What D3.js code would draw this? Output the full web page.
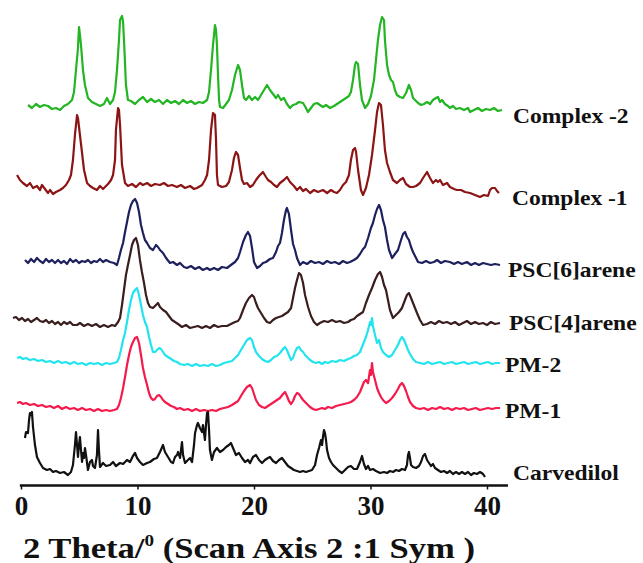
<!DOCTYPE html>
<html>
<head>
<meta charset="utf-8">
<script src="https://cdn.jsdelivr.net/npm/d3@7"></script>
<style>
  html, body { margin: 0; padding: 0; background: #fff; }
  svg { display: block; }
  text { font-family: "Liberation Serif", "Times New Roman", serif; font-weight: bold; fill: #111; }
</style>
</head>
<body>
<svg id="chart" width="643" height="563"></svg>
<script>
// ---------------- DATA ----------------
const seriesNames = ["Complex -2", "Complex -1", "PSC[6]arene", "PSC[4]arene", "PM-2", "PM-1", "Carvedilol"];
// vertical stacking offsets (a.u.)
const seriesOffsets = [375, 295, 220, 160, 122, 75, 10];
const xTicks = [0, 10, 20, 30, 40];
const xTitle = "2 Theta/";

const complex2Theta = [0.60,0.94,1.29,1.63,1.97,2.32,2.66,3.00,3.35,3.69,4.03,4.38,4.55,4.72,4.89,4.98,5.06,5.15,5.32,5.49,5.75,6.09,6.44,6.78,7.12,7.38,7.64,7.90,8.07,8.24,8.41,8.50,8.67,8.76,8.84,9.01,9.18,9.44,9.79,10.13,10.47,10.82,11.16,11.50,11.85,12.19,12.53,12.88,13.22,13.56,13.91,14.25,14.59,14.94,15.28,15.62,15.97,16.14,16.31,16.48,16.65,16.74,16.82,16.91,17.00,17.08,17.34,17.60,17.85,18.11,18.37,18.63,18.80,18.97,19.14,19.31,19.57,19.83,20.09,20.34,20.60,20.86,21.12,21.37,21.63,21.89,22.06,22.32,22.57,22.83,23.09,23.35,23.61,23.86,24.21,24.46,24.63,24.89,25.15,25.41,25.66,25.92,26.18,26.52,26.87,27.12,27.38,27.64,27.90,28.15,28.32,28.50,28.67,28.76,28.93,29.10,29.27,29.53,29.79,30.04,30.30,30.47,30.64,30.82,30.99,31.16,31.24,31.42,31.59,31.76,31.93,32.10,32.27,32.53,32.79,33.05,33.30,33.48,33.65,33.82,34.08,34.34,34.59,34.85,35.11,35.36,35.62,35.79,35.97,36.14,36.39,36.65,36.82,37.08,37.34,37.68,38.03,38.37,38.54,38.88,39.23,39.57,39.91,40.26,40.60,40.94,41.29];
const complex2Int = [5,2,6,3,5,4,1,2,0,4,6,10,18,40,62,83,75,65,40,25,12,8,6,4,6,12,6,10,18,40,70,90,94,88,70,25,10,9,6,10,13,8,11,8,10,6,10,7,9,6,10,7,9,6,8,7,10,18,40,65,85,80,65,35,10,3,2,6,10,20,35,45,40,25,12,10,14,10,13,10,15,20,25,20,16,12,15,10,12,6,2,5,6,8,7,2,-2,2,6,7,5,3,5,2,4,6,8,10,12,14,18,30,45,48,46,25,10,2,6,14,30,50,70,85,93,90,70,45,35,30,28,20,15,13,12,17,25,20,12,10,7,5,6,8,6,10,12,13,8,10,6,4,2,4,1,2,0,2,-2,0,2,-1,1,0,2,-1,0];

const complex1Theta = [-0.34,-0.09,0.17,0.51,0.77,1.03,1.37,1.63,1.80,2.06,2.32,2.49,2.75,3.00,3.35,3.60,3.86,4.12,4.29,4.46,4.63,4.81,4.89,5.06,5.24,5.41,5.67,5.92,6.18,6.52,6.78,7.04,7.21,7.47,7.73,7.90,8.07,8.15,8.33,8.41,8.50,8.67,8.93,9.18,9.53,9.87,10.21,10.47,10.82,11.16,11.50,11.93,12.27,12.62,12.96,13.39,13.73,14.08,14.51,14.85,15.11,15.54,15.79,15.97,16.14,16.31,16.48,16.65,16.74,16.82,16.91,17.25,17.60,17.85,18.11,18.28,18.45,18.63,18.80,18.97,19.14,19.40,19.66,19.91,20.17,20.43,20.77,21.03,21.20,21.46,21.72,21.97,22.23,22.57,22.83,23.09,23.43,23.69,23.95,24.21,24.46,24.81,25.15,25.49,25.92,26.27,26.61,26.87,27.12,27.38,27.64,27.90,28.15,28.32,28.50,28.67,28.76,28.93,29.18,29.36,29.61,29.87,30.13,30.39,30.56,30.73,30.90,31.07,31.24,31.42,31.67,31.93,32.27,32.53,32.79,33.05,33.39,33.65,33.91,34.25,34.51,34.85,35.11,35.36,35.62,35.79,35.97,36.22,36.57,36.82,37.17,37.42,37.77,38.11,38.54,38.97,39.40,39.74,40.09,40.26,40.43,40.69,40.86,41.03];
const complex1Int = [15,10,7,4,7,2,4,0,5,1,-3,0,-4,-2,0,2,5,10,15,30,55,75,72,55,37,20,7,4,2,0,4,1,3,6,10,15,30,60,82,80,65,25,7,4,6,3,7,5,7,4,6,5,7,4,5,3,5,2,4,1,2,5,10,15,30,60,77,75,50,15,5,3,4,8,20,32,38,35,22,10,6,7,3,5,10,14,18,13,10,8,5,3,7,10,13,8,4,0,3,-1,1,-3,0,-2,0,-3,0,-2,-3,0,5,8,15,30,40,42,38,20,0,-5,2,15,35,60,78,87,85,65,40,27,18,10,7,10,12,6,3,3,4,7,12,18,12,7,10,8,10,5,7,3,1,0,0,-2,-3,-5,-7,-5,-6,0,2,2,-1,-3];

const psc6Theta = [0.34,0.60,0.86,1.12,1.37,1.63,1.89,2.15,2.40,2.66,2.92,3.18,3.43,3.69,3.95,4.21,4.46,4.72,4.98,5.24,5.49,5.75,6.01,6.27,6.52,6.78,7.04,7.30,7.64,7.98,8.24,8.41,8.58,8.76,8.93,9.10,9.27,9.44,9.61,9.79,9.96,10.13,10.30,10.47,10.64,10.82,11.07,11.33,11.59,11.76,11.93,12.19,12.45,12.79,13.05,13.39,13.65,13.99,14.25,14.59,14.94,15.28,15.62,15.97,16.22,16.57,16.91,17.25,17.68,18.02,18.37,18.63,18.80,19.06,19.31,19.48,19.66,19.83,20.00,20.26,20.52,20.77,21.03,21.37,21.63,21.89,22.06,22.23,22.40,22.57,22.75,22.83,23.00,23.18,23.35,23.52,23.69,23.95,24.21,24.55,24.89,25.24,25.58,25.92,26.27,26.61,26.95,27.30,27.64,27.98,28.24,28.58,28.84,29.10,29.36,29.53,29.79,30.04,30.21,30.39,30.56,30.73,30.90,31.07,31.24,31.42,31.59,31.85,32.10,32.36,32.62,32.79,32.96,33.13,33.30,33.48,33.65,33.91,34.08,34.42,34.76,35.11,35.45,35.71,36.05,36.39,36.82,37.17,37.51,37.85,38.28,38.63,38.97,39.31,39.66,40.00,40.34,40.69,41.12];
const psc6Int = [5,2,6,3,7,4,2,6,3,5,2,5,2,4,1,6,3,5,2,4,3,5,2,4,3,6,3,5,3,2,0,7,15,22,33,43,53,60,64,66,62,53,40,32,25,22,17,15,20,18,15,12,7,2,3,0,2,-2,-3,-1,-4,-2,-5,-3,-5,-3,-5,-2,-3,0,3,7,13,23,30,33,29,17,3,-3,-1,2,3,6,7,13,19,22,32,45,55,57,51,35,21,15,7,0,3,1,4,2,3,1,4,2,3,1,4,2,3,5,7,11,16,18,27,37,42,50,56,60,55,45,38,25,15,7,11,15,25,31,33,28,25,18,13,7,3,2,4,2,3,5,2,4,3,1,3,1,3,0,2,0,2,1,0,1,0];

const psc4Theta = [-0.69,-0.43,-0.17,0.09,0.34,0.60,0.86,1.12,1.37,1.63,1.89,2.15,2.40,2.66,2.92,3.18,3.43,3.69,3.95,4.21,4.46,4.81,5.06,5.41,5.75,6.09,6.44,6.78,7.12,7.47,7.81,8.07,8.33,8.50,8.67,8.84,9.01,9.18,9.36,9.53,9.70,9.87,10.04,10.21,10.38,10.56,10.73,10.90,11.07,11.33,11.59,11.76,11.93,12.19,12.45,12.70,12.96,13.22,13.48,13.82,14.16,14.51,14.85,15.19,15.54,15.88,16.22,16.57,16.91,17.25,17.68,18.02,18.37,18.63,18.80,19.06,19.31,19.57,19.83,20.00,20.17,20.34,20.60,20.86,21.12,21.37,21.63,21.89,22.15,22.40,22.66,22.92,23.18,23.35,23.52,23.69,23.86,24.03,24.21,24.38,24.64,24.89,25.15,25.41,25.66,26.01,26.35,26.70,27.04,27.38,27.73,28.07,28.32,28.58,28.84,29.10,29.36,29.61,29.87,30.13,30.39,30.64,30.82,30.99,31.16,31.33,31.50,31.67,31.93,32.19,32.45,32.70,32.96,33.13,33.30,33.48,33.65,33.82,33.99,34.25,34.51,34.85,35.19,35.54,35.88,36.22,36.57,36.91,37.25,37.60,37.94,38.28,38.63,38.97,39.31,39.66,40.00,40.34,40.69,41.12];
const psc4Int = [7,8,5,7,4,6,3,5,7,4,3,5,2,4,1,3,0,3,1,3,0,0,2,-1,1,-1,1,-2,0,-2,0,-1,3,7,20,35,50,60,70,80,85,87,80,65,53,42,30,22,18,17,20,22,18,15,13,9,5,3,1,-2,0,-3,-2,-1,-3,-1,-3,0,-2,-1,-1,1,3,4,7,15,22,27,30,28,22,17,12,7,3,2,5,7,8,9,11,13,17,27,37,45,52,50,42,30,18,9,3,0,2,4,3,5,3,4,2,3,5,6,9,11,13,22,30,37,45,51,53,48,40,35,25,15,7,10,13,17,25,30,32,27,22,17,12,5,0,1,3,1,4,2,3,1,3,0,2,4,1,3,1,2,0,3,1,2];

const pm2Theta = [-0.34,-0.09,0.17,0.43,0.77,1.12,1.46,1.80,2.15,2.49,2.83,3.18,3.52,3.86,4.21,4.55,4.89,5.24,5.58,5.92,6.27,6.61,6.95,7.30,7.64,7.98,8.24,8.41,8.58,8.76,8.93,9.10,9.27,9.44,9.61,9.79,9.96,10.13,10.30,10.47,10.64,10.82,10.99,11.16,11.33,11.50,11.67,11.85,12.02,12.19,12.36,12.62,12.88,13.13,13.39,13.65,13.99,14.33,14.68,15.02,15.36,15.71,16.05,16.39,16.74,17.08,17.42,17.77,18.11,18.37,18.63,18.88,19.14,19.40,19.66,19.83,20.00,20.17,20.43,20.69,20.94,21.20,21.46,21.72,21.97,22.23,22.49,22.66,22.83,23.00,23.18,23.35,23.52,23.69,23.86,24.03,24.21,24.38,24.55,24.81,25.06,25.32,25.58,25.84,26.09,26.35,26.70,27.04,27.38,27.73,28.07,28.32,28.58,28.84,29.10,29.27,29.44,29.61,29.79,29.96,30.04,30.13,30.21,30.39,30.56,30.73,30.90,31.07,31.33,31.59,31.85,32.10,32.36,32.53,32.70,32.88,33.05,33.22,33.39,33.65,33.91,34.25,34.59,34.94,35.28,35.62,35.97,36.31,36.65,37.00,37.34,37.68,38.03,38.37,38.71,39.05,39.40,39.74,40.09,40.43,40.77,41.12];
const pm2Int = [5,6,4,5,3,4,2,3,1,2,0,2,0,1,-1,1,-1,0,-2,0,-1,0,-2,0,-1,0,1,5,13,23,30,41,53,63,70,73,75,68,58,48,41,36,26,18,11,11,13,15,14,11,8,6,4,2,1,-1,-2,-1,-3,-1,-3,-2,-3,-1,-3,-2,0,1,2,5,8,13,18,23,25,23,16,11,7,4,2,1,3,6,7,10,14,16,13,8,3,5,11,15,16,13,11,8,6,3,1,0,1,-1,1,0,2,1,3,2,4,5,7,8,11,16,21,26,33,41,38,45,37,28,20,23,15,11,8,6,8,13,18,23,26,23,18,13,9,4,1,0,-1,1,-1,0,1,-1,0,1,-1,0,1,-1,0,1,-1,0,1,-1,0,0];

const pm1Theta = [-0.34,-0.09,0.17,0.43,0.77,1.12,1.46,1.80,2.15,2.49,2.83,3.18,3.52,3.86,4.21,4.55,4.89,5.24,5.58,5.92,6.27,6.61,6.95,7.30,7.64,7.98,8.24,8.41,8.58,8.76,8.93,9.10,9.27,9.44,9.61,9.79,9.96,10.13,10.30,10.47,10.64,10.82,10.99,11.16,11.33,11.50,11.67,11.85,12.02,12.19,12.36,12.62,12.88,13.13,13.39,13.65,13.99,14.33,14.68,15.02,15.36,15.71,16.05,16.39,16.74,17.08,17.42,17.77,18.11,18.37,18.63,18.88,19.14,19.40,19.66,19.83,20.00,20.17,20.43,20.69,20.94,21.20,21.46,21.72,21.97,22.23,22.49,22.66,22.83,23.00,23.18,23.35,23.52,23.69,23.86,24.03,24.21,24.38,24.55,24.81,25.06,25.32,25.58,25.84,26.09,26.35,26.70,27.04,27.38,27.73,28.07,28.32,28.58,28.84,29.10,29.27,29.44,29.61,29.79,29.96,30.04,30.13,30.21,30.39,30.56,30.73,30.90,31.07,31.33,31.59,31.85,32.10,32.36,32.53,32.70,32.88,33.05,33.22,33.39,33.65,33.91,34.25,34.59,34.94,35.28,35.62,35.97,36.31,36.65,37.00,37.34,37.68,38.03,38.37,38.71,39.05,39.40,39.74,40.09,40.43,40.77,41.12];
const pm1Int = [7,8,6,7,5,6,4,5,3,4,2,4,1,3,1,2,0,2,0,1,-1,1,-1,0,-1,0,1,5,12,22,33,45,55,63,68,72,73,67,55,42,33,25,17,12,10,11,14,15,13,10,8,6,4,3,1,2,0,1,-1,1,-1,0,-1,0,-1,1,2,3,5,7,9,14,19,23,25,22,16,10,5,3,2,4,6,8,10,12,16,18,14,9,6,9,14,17,16,13,10,8,6,3,1,0,1,2,1,3,2,4,5,6,7,8,10,13,18,23,28,30,27,40,35,47,38,30,22,17,13,10,7,9,12,16,21,25,27,24,19,13,8,4,2,1,2,0,2,1,3,1,2,0,2,1,2,0,1,2,0,1,2,1,2,2];

const carvTheta = [0.34,0.43,0.60,0.69,0.77,0.86,0.94,1.03,1.20,1.37,1.63,1.89,2.23,2.49,2.75,3.00,3.35,3.69,4.03,4.29,4.46,4.63,4.72,4.81,4.89,4.98,5.06,5.15,5.24,5.32,5.41,5.49,5.58,5.75,5.92,6.09,6.18,6.35,6.52,6.61,6.69,6.78,7.04,7.30,7.64,7.90,8.15,8.50,8.76,9.10,9.36,9.61,9.79,9.96,10.21,10.47,10.82,11.07,11.41,11.67,11.93,12.19,12.36,12.62,12.88,13.05,13.22,13.39,13.48,13.65,13.82,13.91,14.08,14.33,14.51,14.68,14.85,14.94,15.11,15.19,15.36,15.54,15.62,15.79,15.88,15.97,16.05,16.14,16.22,16.39,16.57,16.82,17.08,17.34,17.60,17.85,18.02,18.20,18.45,18.71,18.97,19.23,19.48,19.66,19.91,20.17,20.43,20.69,20.94,21.20,21.37,21.63,21.89,22.15,22.40,22.66,22.92,23.18,23.43,23.69,23.95,24.21,24.46,24.72,24.98,25.24,25.41,25.58,25.75,25.84,25.92,26.01,26.09,26.18,26.27,26.44,26.61,26.78,27.04,27.30,27.55,27.81,28.07,28.32,28.58,28.84,29.10,29.27,29.44,29.61,29.79,29.96,30.21,30.47,30.82,31.16,31.42,31.67,31.93,32.19,32.45,32.70,32.96,33.13,33.22,33.30,33.39,33.48,33.65,33.91,34.16,34.34,34.51,34.68,34.85,35.02,35.19,35.36,35.54,35.79,36.05,36.31,36.57,36.82,37.08,37.34,37.60,37.85,38.11,38.37,38.63,38.88,39.14,39.40,39.66,39.83];
const carvInt = [37,43,42,55,62,60,63,48,30,18,12,7,5,6,3,4,2,3,0,3,10,30,43,30,18,30,38,25,13,22,17,27,20,5,13,15,9,7,20,45,25,8,12,9,10,13,9,12,11,15,13,19,22,17,13,10,12,13,16,17,23,30,23,18,13,12,18,20,23,17,33,20,12,15,17,13,30,42,50,52,47,43,50,35,50,62,63,45,25,15,23,27,23,25,28,30,32,27,20,22,17,13,15,12,18,20,15,12,15,17,18,14,12,15,17,13,9,7,5,4,3,4,3,4,5,10,20,27,35,30,38,45,42,35,25,17,13,10,7,4,2,5,8,9,6,6,13,19,11,6,9,5,6,4,2,3,2,4,3,5,4,6,5,10,20,23,17,10,8,7,9,13,19,21,15,12,9,11,7,5,3,4,2,4,1,3,1,3,1,3,0,2,1,3,1,-2];

const seriesTheta = [complex2Theta, complex1Theta, psc6Theta, psc4Theta, pm2Theta, pm1Theta, carvTheta];
const seriesInt = [complex2Int, complex1Int, psc6Int, psc4Int, pm2Int, pm1Int, carvInt];

// ---------------- STYLE / LAYOUT ----------------
const colors = ["#23b523", "#8c1414", "#1e205e", "#3a1e1e", "#22e4ee", "#f41a4c", "#111111"];
const labelLayout = [ {x: 513, dy: 13}, {x: 512, dy: 15}, {x: 508, dy: 12}, {x: 509, dy: 5}, {x: 505, dy: 9}, {x: 505, dy: 8}, {x: 513, dy: 5} ];

const svg = d3.select("#chart");
const x = d3.scaleLinear().domain([0, 40]).range([21, 487]);
const y = d3.scaleLinear().domain([0, 480]).range([485, 5]);

const line = d3.line().x(d => x(d[0])).y(d => y(d[1]));

seriesNames.forEach((name, i) => {
  const pts = seriesTheta[i].map((t, k) => [t, seriesInt[i][k] + seriesOffsets[i]]);
  svg.append("path")
    .datum(pts)
    .attr("d", line)
    .attr("fill", "none")
    .attr("stroke", colors[i])
    .attr("stroke-width", 2.2)
    .attr("stroke-linejoin", "round");
  svg.append("text")
    .attr("transform", `translate(${labelLayout[i].x}, ${y(seriesOffsets[i]) + labelLayout[i].dy}) scale(1.07, 1)`)
    .attr("font-size", 22)
    .text(name);
});

// axis
const axisG = svg.append("g").attr("transform", `translate(0, ${y(0) + 0.5})`);
const axis = d3.axisBottom(x).tickValues(xTicks).tickSize(4).tickSizeOuter(0).tickPadding(6);
axisG.call(axis);
axisG.select(".domain").remove();
axisG.append("line")
  .attr("x1", x(-0.1)).attr("x2", x(41.8))
  .attr("y1", 0).attr("y2", 0)
  .attr("stroke", "#111").attr("stroke-width", 2.5);
axisG.selectAll(".tick line").attr("stroke", "#111").attr("stroke-width", 1.5);
axisG.selectAll(".tick text")
  .attr("font-size", 27)
  .attr("font-family", "'Liberation Serif', 'Times New Roman', serif")
  .attr("font-weight", "bold")
  .attr("fill", "#111");

// title
const title = svg.append("text")
  .attr("x", 23)
  .attr("y", 558)
  .attr("font-size", 29)
  .attr("textLength", 452)
  .attr("lengthAdjust", "spacingAndGlyphs");
title.append("tspan").text(xTitle);
title.append("tspan").attr("dy", -12).attr("font-size", 16).text("0");
title.append("tspan").attr("dy", 12).text(" (Scan Axis 2 :1 Sym )");
</script>
</body>
</html>
